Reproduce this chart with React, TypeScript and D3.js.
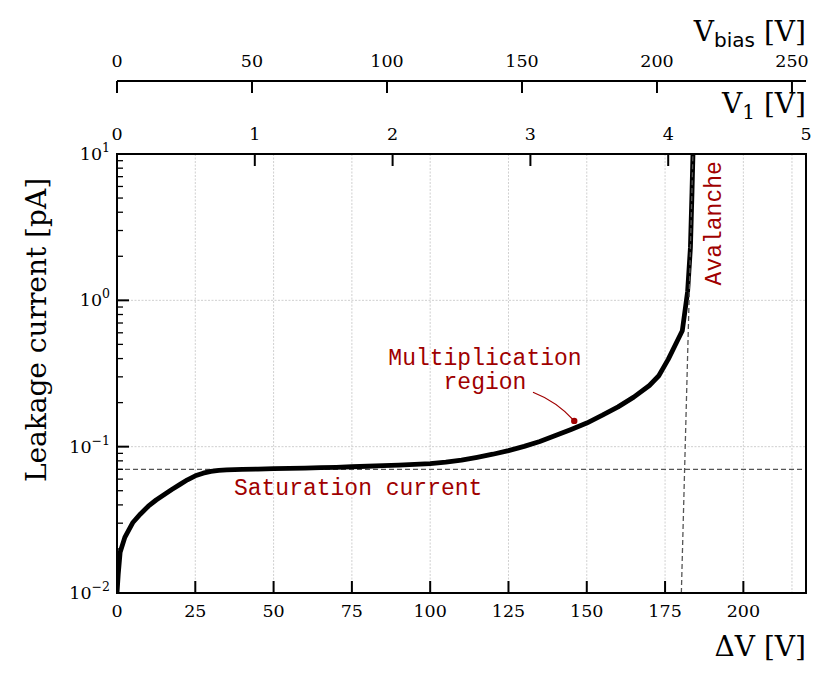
import * as d3 from "d3";

// leakage current vs. overvoltage
const deltaV = [
  0, 0.4, 1, 2.5, 5, 7.5, 10, 12.5, 15, 17.5, 20, 22.5, 25, 27.5, 30, 32.5, 35,
  40, 45, 50, 55, 60, 65, 70, 75, 80, 85, 90, 95, 100, 105, 110, 115, 120, 125,
  130, 135, 140, 145, 150, 155, 160, 165, 170, 173, 176, 180.5, 182.2, 183.1,
  183.6, 184.0,
];
const leakage = [
  0.01, 0.0135, 0.019, 0.024, 0.0302, 0.0347, 0.0392, 0.0432, 0.047, 0.051,
  0.055, 0.0594, 0.0632, 0.0659, 0.0677, 0.0688, 0.0693, 0.0699, 0.0703,
  0.0707, 0.071, 0.0714, 0.0718, 0.0723, 0.0729, 0.0735, 0.0741, 0.0748,
  0.0756, 0.0766, 0.0784, 0.081, 0.0846, 0.0888, 0.094, 0.1005, 0.1085, 0.119,
  0.131, 0.145, 0.164, 0.187, 0.218, 0.262, 0.305, 0.395, 0.62, 1.15, 2.3, 5.5,
  12,
];

const saturationCurrent = 0.07;
// tangent of the avalanche rise
const avalancheV = [180.2, 183.9];
const avalancheI = [0.01, 10];

const deltaTicks = [0, 25, 50, 75, 100, 125, 150, 175, 200];
const v1Ticks = [0, 1, 2, 3, 4, 5];
const vbiasTicks = [0, 50, 100, 150, 200, 250];
const decades = [-2, -1, 0, 1];

const annoPoint = { v: 146, i: 0.15 };
const annoText = { v: 117.5, i: 0.36 };

const W = 830;
const H = 680;
const left = 117;
const right = 806;
const top = 154;
const bottom = 593;
const vbiasY = 81;

const serif = "DejaVu Serif";
const mono = "Liberation Mono";
const red = "#a00000";

export default function App() {
  const x = d3.scaleLinear().domain([0, 220]).range([left, right]);
  const y = d3.scaleLog().domain([0.01, 10]).range([bottom, top]);
  const xV1 = d3.scaleLinear().domain([0, 5]).range([left, right]);
  const xBias = d3.scaleLinear().domain([0, 255.2]).range([left, right]);

  const pts = deltaV.map((v, k) => [v, leakage[k]] as [number, number]);
  const line = d3
    .line<[number, number]>()
    .x((d) => x(d[0]))
    .y((d) => y(d[1]));

  const minor: number[] = [];
  decades.slice(0, 3).forEach((e) => {
    for (let m = 2; m <= 9; m++) minor.push(m * Math.pow(10, e));
  });

  // arrow of the annotation
  const ax = x(annoText.v) + 48;
  const ay = y(annoText.i) + 27;
  const bx = x(annoPoint.v);
  const by = y(annoPoint.i);
  const cx = (ax + bx) / 2 + (by - ay) * 0.12;
  const cy = (ay + by) / 2 - (bx - ax) * 0.12;

  return (
    <svg
      width={W}
      height={H}
      style={{ position: "absolute", left: 0, top: 0, background: "#fff" }}
    >
      <defs>
        <clipPath id="plot">
          <rect x={left} y={top} width={right - left} height={bottom - top} />
        </clipPath>
      </defs>

      {/* grid */}
      <g stroke="#bbb" strokeWidth={0.7} strokeDasharray="2,1.5">
        {deltaTicks.slice(1).map((t) => (
          <line key={t} x1={x(t)} x2={x(t)} y1={top} y2={bottom} />
        ))}
        {/* the figure also shows a grid line at V_bias = 250 */}
        <line x1={xBias(250)} x2={xBias(250)} y1={top} y2={bottom} />
        {decades.slice(1, 3).map((e) => (
          <line
            key={e}
            x1={left}
            x2={right}
            y1={y(Math.pow(10, e))}
            y2={y(Math.pow(10, e))}
          />
        ))}
      </g>

      <g clipPath="url(#plot)">
        <line
          x1={left}
          x2={right}
          y1={y(saturationCurrent)}
          y2={y(saturationCurrent)}
          stroke="#555"
          strokeWidth={1.3}
          strokeDasharray="5,3"
        />
        <path
          d={line(pts) ?? ""}
          fill="none"
          stroke="#000"
          strokeWidth={4.8}
          strokeLinejoin="round"
        />
        <line
          x1={x(avalancheV[0])}
          x2={x(avalancheV[1])}
          y1={y(avalancheI[0])}
          y2={y(avalancheI[1])}
          stroke="#555"
          strokeWidth={1.3}
          strokeDasharray="5,3"
        />
      </g>

      {/* annotations */}
      <g fontFamily={mono} fontSize={23} fill={red} textAnchor="middle">
        <text x={x(77)} y={y(0.047)}>
          Saturation current
        </text>
        <text x={x(annoText.v)} y={y(annoText.i)}>
          Multiplication
        </text>
        <text x={x(annoText.v)} y={y(annoText.i) + 24}>
          region
        </text>
        <text
          transform={`translate(${x(190.3)},${y(3.36)}) rotate(-90)`}
          dy="0.35em"
        >
          Avalanche
        </text>
      </g>
      <path
        d={`M${ax},${ay} Q${cx},${cy} ${bx},${by}`}
        fill="none"
        stroke={red}
        strokeWidth={1.3}
      />
      <circle cx={bx} cy={by} r={3.2} fill={red} />

      {/* frame */}
      <rect
        x={left}
        y={top}
        width={right - left}
        height={bottom - top}
        fill="none"
        stroke="#000"
        strokeWidth={2}
      />

      {/* ticks */}
      <g stroke="#000" strokeWidth={2}>
        {deltaTicks.map((t) => (
          <line key={t} x1={x(t)} x2={x(t)} y1={bottom} y2={bottom - 12} />
        ))}
        {v1Ticks.map((t) => (
          <line key={t} x1={xV1(t)} x2={xV1(t)} y1={top} y2={top + 12} />
        ))}
        {decades.map((e) => (
          <line
            key={e}
            x1={left}
            x2={left + 12}
            y1={y(Math.pow(10, e))}
            y2={y(Math.pow(10, e))}
          />
        ))}
      </g>
      <g stroke="#000" strokeWidth={1.3}>
        {minor.map((m) => (
          <line key={m} x1={left} x2={left + 6} y1={y(m)} y2={y(m)} />
        ))}
      </g>
      <g fontFamily={serif} fontSize={17.5} textAnchor="middle">
        {deltaTicks.map((t) => (
          <text key={t} x={x(t)} y={bottom + 24}>
            {t}
          </text>
        ))}
        {v1Ticks.map((t) => (
          <text key={t} x={xV1(t)} y={top - 14}>
            {t}
          </text>
        ))}
        {vbiasTicks.map((t) => (
          <text key={t} x={xBias(t)} y={vbiasY - 14}>
            {t}
          </text>
        ))}
      </g>
      <g fontFamily={serif} fontSize={17.5} textAnchor="end">
        {decades.map((e) => (
          <text key={e} x={left - 7} y={y(Math.pow(10, e)) + 6}>
            10
            <tspan fontSize={12.5} dy={-8}>
              {e < 0 ? `\u2212${-e}` : e}
            </tspan>
          </text>
        ))}
      </g>

      {/* V_bias axis */}
      <line
        x1={left}
        x2={right}
        y1={vbiasY}
        y2={vbiasY}
        stroke="#000"
        strokeWidth={2}
      />
      <g stroke="#000" strokeWidth={2}>
        {vbiasTicks.map((t) => (
          <line
            key={t}
            x1={xBias(t)}
            x2={xBias(t)}
            y1={vbiasY}
            y2={vbiasY + 12}
          />
        ))}
      </g>

      {/* axis labels */}
      <g fontFamily={serif} fontSize={28} fill="#000">
        <text x={right} y={656} textAnchor="end">
          ΔV [V]
        </text>
        <text x={right} y={113} textAnchor="end">
          V<tspan fontSize={20} dy={6}>1</tspan>
          <tspan dy={-6}> [V]</tspan>
        </text>
        <text x={right} y={41} textAnchor="end">
          V
          <tspan fontFamily="DejaVu Sans" fontSize={20} dy={6}>
            bias
          </tspan>
          <tspan dy={-6}> [V]</tspan>
        </text>
        <text transform="translate(46,330) rotate(-90)" textAnchor="middle">
          Leakage current [pA]
        </text>
      </g>
    </svg>
  );
}
